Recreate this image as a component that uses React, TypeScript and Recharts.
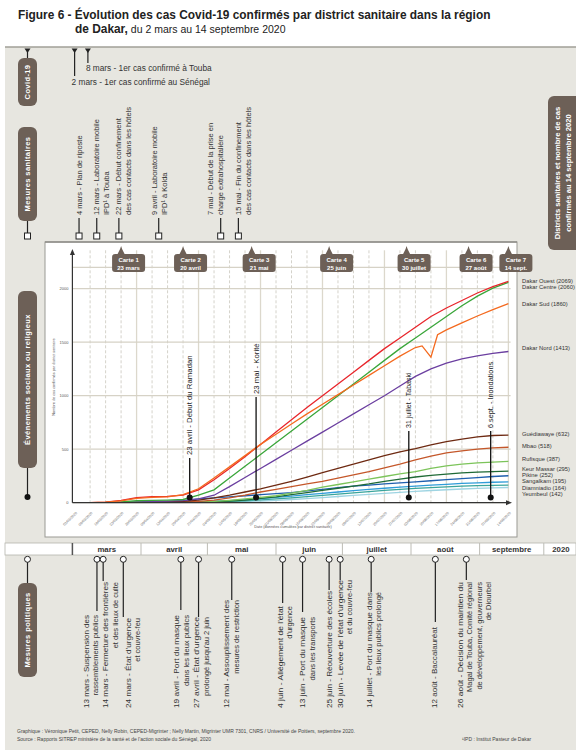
import React from 'react';
import { LineChart, Line, XAxis, YAxis, CartesianGrid } from 'recharts';

// ---------------- data ----------------
const weekDays = [0, 7, 14, 21, 28, 35, 42, 49, 56, 63, 70, 77, 84, 91, 98, 105, 112, 119, 126, 133, 140, 147, 154, 161, 168, 175, 182, 189, 196];
const weekLabels = ['02/03/2020', '09/03/2020', '16/03/2020', '23/03/2020', '30/03/2020', '06/04/2020', '13/04/2020', '20/04/2020', '27/04/2020', '04/05/2020', '11/05/2020', '18/05/2020', '25/05/2020', '01/06/2020', '08/06/2020', '15/06/2020', '22/06/2020', '29/06/2020', '06/07/2020', '13/07/2020', '20/07/2020', '27/07/2020', '03/08/2020', '10/08/2020', '17/08/2020', '24/08/2020', '31/08/2020', '07/09/2020', '14/09/2020'];

const dakarOuest = [0, 1, 6, 22, 48, 56, 60, 70, 120, 215, 320, 430, 545, 660, 775, 890, 1000, 1110, 1220, 1330, 1440, 1540, 1640, 1740, 1820, 1890, 1960, 2020, 2069];
const dakarCentre = [0, 0, 2, 8, 18, 22, 25, 30, 70, 120, 230, 340, 450, 560, 670, 780, 890, 1000, 1110, 1220, 1330, 1440, 1540, 1640, 1740, 1840, 1930, 2005, 2060];
const dakarNord = [0, 0, 1, 3, 8, 12, 15, 20, 35, 70, 150, 235, 320, 405, 490, 575, 660, 745, 830, 915, 1000, 1090, 1180, 1250, 1305, 1345, 1372, 1395, 1413];
const guediawaye = [0, 0, 0, 1, 3, 5, 8, 12, 25, 45, 70, 100, 130, 165, 200, 240, 280, 320, 360, 400, 440, 475, 505, 540, 570, 595, 615, 628, 632];
const mbao = [0, 0, 0, 0, 1, 2, 3, 5, 12, 25, 45, 70, 100, 125, 150, 175, 200, 230, 260, 290, 325, 360, 400, 435, 465, 485, 500, 512, 518];
const rufisque = [0, 0, 0, 0, 0, 1, 2, 3, 6, 12, 22, 35, 50, 65, 90, 115, 145, 170, 195, 220, 245, 270, 290, 320, 345, 360, 372, 380, 387];
const keurMassar = [0, 0, 0, 0, 0, 0, 1, 2, 4, 8, 15, 25, 40, 55, 75, 95, 115, 135, 155, 175, 200, 220, 240, 255, 268, 278, 286, 291, 295];
const pikine = [0, 0, 0, 1, 3, 6, 10, 20, 35, 45, 55, 65, 75, 85, 95, 110, 125, 140, 155, 165, 175, 185, 195, 205, 215, 225, 235, 245, 252];
const sangalkam = [0, 0, 0, 0, 0, 1, 2, 4, 8, 14, 20, 28, 38, 50, 62, 75, 88, 100, 112, 124, 135, 145, 155, 165, 172, 180, 186, 191, 195];
const diamniadio = [0, 0, 0, 0, 0, 0, 1, 2, 4, 8, 12, 18, 26, 35, 45, 56, 68, 80, 92, 104, 115, 125, 133, 141, 148, 154, 159, 162, 164];
const yeumbeul = [0, 0, 0, 0, 0, 0, 0, 1, 2, 4, 7, 11, 16, 22, 30, 38, 48, 58, 68, 78, 88, 97, 106, 114, 121, 128, 134, 139, 142];

const sudDays = [0, 7, 14, 21, 28, 35, 42, 49, 56, 63, 70, 77, 84, 91, 98, 105, 112, 119, 126, 133, 140, 147, 154, 157, 161, 164, 168, 175, 182, 189, 196];
const dakarSud = [0, 1, 5, 18, 40, 50, 55, 75, 130, 230, 335, 440, 545, 640, 735, 830, 920, 1010, 1100, 1190, 1280, 1370, 1450, 1465, 1360, 1570, 1615, 1680, 1745, 1805, 1860];

const yTicks = [0, 500, 1000, 1500, 2000];

const series = [
  { key: 'ouest', name: 'Dakar Ouest', total: 2069, color: '#e8262c', values: dakarOuest, labelY: 281 },
  { key: 'centre', name: 'Dakar Centre', total: 2060, color: '#3aa63a', values: dakarCentre, labelY: 287 },
  { key: 'nord', name: 'Dakar Nord', total: 1413, color: '#6b3fa0', values: dakarNord, labelY: 348 },
  { key: 'guediawaye', name: 'Guédiawaye', total: 632, color: '#6e2a12', values: guediawaye, labelY: 434 },
  { key: 'mbao', name: 'Mbao', total: 518, color: '#c4572a', values: mbao, labelY: 446 },
  { key: 'rufisque', name: 'Rufisque', total: 387, color: '#7cc45a', values: rufisque, labelY: 459 },
  { key: 'keurMassar', name: 'Keur Massar', total: 295, color: '#1f6a36', values: keurMassar, labelY: 469 },
  { key: 'pikine', name: 'Pikine', total: 252, color: '#1f5fae', values: pikine, labelY: 475 },
  { key: 'sangalkam', name: 'Sangalkam', total: 195, color: '#2f9cd8', values: sangalkam, labelY: 481 },
  { key: 'diamniadio', name: 'Diamniadio', total: 164, color: '#3aa59c', values: diamniadio, labelY: 488 },
  { key: 'yeumbeul', name: 'Yeumbeul', total: 142, color: '#9ed4e2', values: yeumbeul, labelY: 494 },
];
const sud = { name: 'Dakar Sud', total: 1860, color: '#f46a1f', labelY: 304 };

const rows = weekDays.map((d, i) => {
  const r: any = { day: d };
  series.forEach((s) => { r[s.key] = s.values[i]; });
  return r;
});
const sudRows = sudDays.map((d, i) => ({ day: d, sud: dakarSud[i] }));

// annotations
const covidEvents = [
  { day: 0, lineEnd: 76, textY: 85, dx: -3, text: '2 mars - 1er cas confirmé au Sénégal' },
  { day: 6, lineEnd: 63, textY: 71, dx: -2, text: '8 mars - 1er cas confirmé à Touba' },
];
const sanitaires = [
  { day: 2, dx: 0, lines: ['4 mars - Plan de riposte'] },
  { day: 10, dx: 0, lines: ['12 mars - Laboratoire mobile', 'IPD¹ à Touba'] },
  { day: 20, dx: 0, lines: ['22 mars - Début confinement', 'des cas contacts dans les hôtels'] },
  { day: 38, dx: -4, lines: ['9 avril - Laboratoire mobile', 'IPD¹ à Kolda'] },
  { day: 66, dx: -10, lines: ['7 mai - Début de la prise en', 'charge extrahospitalière'] },
  { day: 74, dx: 0, lines: ['15 mai - Fin du confinement', 'des cas contacts dans les hôtels'] },
];
const politiques = [
  { day: 11, shift: -2, end: 611, top: 615, dx: -10.7, lines: ['13 mars - Suspension des', 'rassemblements publics'] },
  { day: 12, shift: 2, end: 581, top: 582, dx: 2.7, lines: ['14 mars - Fermeture des frontières', 'et des lieux de culte'] },
  { day: 22, shift: 0, end: 617, top: 618, dx: 5, lines: ["24 mars - État d'urgence", 'et couvre-feu'] },
  { day: 48, shift: 0, end: 610, top: 615, dx: -4, lines: ['19 avril - Port du masque', 'dans les lieux publics'] },
  { day: 56, shift: 0, end: 617, top: 617, dx: -2, lines: ["27 avril - État d'urgence", "prolongé jusqu'au 2 juin"] },
  { day: 71, shift: 0, end: 600, top: 600, dx: -5, lines: ['12 mai - Assouplissement des', 'mesures de restriction'] },
  { day: 94, shift: 0, end: 603, top: 606, dx: -2.6, lines: ["4 juin - Allégement de l'état", "d'urgence"] },
  { day: 103, shift: 0, end: 612, top: 617, dx: 0, lines: ['13 juin - Port du masque', 'dans les transports'] },
  { day: 115, shift: 0, end: 590, top: 591, dx: 0, lines: ['25 juin - Réouverture des écoles'] },
  { day: 120, shift: 0, end: 580, top: 580, dx: 0, lines: ["30 juin - Levée de l'état d'urgence", 'et du couvre-feu'] },
  { day: 134, shift: 0, end: 592, top: 592, dx: -2, lines: ['14 juillet - Port du masque dans', 'les lieux publics prolongé'] },
  { day: 163, shift: 0, end: 622, top: 627, dx: -1, lines: ['12 août - Baccalauréat'] },
  { day: 177, shift: 0, end: 580, top: 582, dx: -6, lines: ['26 août - Décision du maintien du', 'Magal de Touba, Comité régional', 'de développement, gouverneurs', 'de Diourbel'] },
];
const evenements = [
  { day: 52, text: '23 avril - Début du Ramadan', bottom: 455, size: 7.8 },
  { day: 82, text: '23 mai - Korité', bottom: 394, size: 7.8 },
  { day: 151, text: '31 juillet - Tabaski', bottom: 428, size: 7 },
  { day: 188, text: '6 sept. - Inondations', bottom: 428, size: 7.3 },
];
const cartes = [
  { day: 21, n: 1, date: '23 mars' },
  { day: 49, n: 2, date: '20 avril' },
  { day: 80, n: 3, date: '21 mai' },
  { day: 115, n: 4, date: '25 juin' },
  { day: 150, n: 5, date: '30 juillet' },
  { day: 178, n: 6, date: '27 août' },
  { day: 196, n: 7, date: '14 sept.' },
];
const months = [
  { name: 'mars', start: -1, end: 30 },
  { name: 'avril', start: 30, end: 60 },
  { name: 'mai', start: 60, end: 91 },
  { name: 'juin', start: 91, end: 121 },
  { name: 'juillet', start: 121, end: 152 },
  { name: 'août', start: 152, end: 183 },
  { name: 'septembre', start: 183, end: 212 },
];
const solidGridDays = [0, 28, 56, 84, 112, 140, 168, 196];

// ---------------- layout ----------------
const FONT = "'Liberation Sans', Arial, Helvetica, sans-serif";
const BROWN = '#6d6057';
const PANEL = '#e7e6e0';
const CH = { left: 45, top: 242, width: 472, height: 295 };
const M = { top: 25.3, right: 6.4, bottom: 4.3, left: 0 };
const Y_AXIS_W = 27.4;
const X_AXIS_H = 30;
const X_DOMAIN: [number, number] = [-1, 197];
const Y_DOMAIN: [number, number] = [0, 2200];
const plotLeft = CH.left + M.left + Y_AXIS_W;
const plotRight = CH.left + CH.width - M.right;
const plotTop = CH.top + M.top;
const plotBottom = CH.top + CH.height - M.bottom - X_AXIS_H;
const xOf = (d: number) => plotLeft + ((d - X_DOMAIN[0]) / (X_DOMAIN[1] - X_DOMAIN[0])) * (plotRight - plotLeft);

function VLines(props: any) {
  const { x, y, lines, size = 7.5, gap = 10, anchor = 'start', fill = '#333', weight = 400, firstLen, ls = 0 } = props;
  return (
    <g>
      {lines.map((t: string, i: number) => {
        const cx = x + i * gap;
        const extra: any = i === 0 && firstLen ? { textLength: firstLen, lengthAdjust: 'spacingAndGlyphs' } : {};
        return (
          <text key={i} x={cx} y={y} transform={`rotate(-90 ${cx} ${y})`} textAnchor={anchor} dominantBaseline="central"
            fontSize={size} fill={fill} fontWeight={weight} fontFamily={FONT} letterSpacing={ls} {...extra}>{t}</text>
        );
      })}
    </g>
  );
}

function Pill(props: any) {
  const { x, y, w, h, lines, size = 7.5 } = props;
  const cy = y + h / 2;
  const n = lines.length;
  return (
    <g>
      <rect x={x} y={y} width={w} height={h} rx={6} fill={BROWN} />
      <VLines x={x + w / 2 - ((n - 1) * 10.5) / 2} y={cy} lines={lines} anchor="middle" size={size} gap={10.5} fill="#fff" weight={700} ls={0.4} />
    </g>
  );
}

const DateTick = (props: any) => {
  const { x, y, payload } = props;
  const i = weekDays.indexOf(payload.value);
  const ty = y + 1;
  return (
    <text x={x + 1} y={ty} transform={`rotate(-45 ${x + 1} ${ty})`} textAnchor="end" dominantBaseline="hanging" fontSize={3.6} fill="#666" fontFamily={FONT}>
      {weekLabels[i]}
    </text>
  );
};

export default function App() {
  return (
    <div style={{ position: 'absolute', left: 0, top: 0, width: 576, height: 750, background: '#fff', overflow: 'hidden', fontFamily: FONT }}>
      {/* background layer */}
      <svg width={576} height={750} style={{ position: 'absolute', left: 0, top: 0 }}>
        <rect x={5} y={47} width={571} height={703} fill={PANEL} />
        <line x1={5} x2={576} y1={47} y2={47} stroke="#a09f97" strokeWidth={1.5} />
        <rect x={CH.left} y={CH.top} width={CH.width} height={CH.height} fill="#fff" stroke="#9a9993" strokeWidth={1} />
        <line x1={CH.left} x2={CH.left + CH.width} y1={CH.top} y2={CH.top} stroke="#8f8e88" strokeWidth={1.5} />
        {weekDays.filter((d) => d > 0 && solidGridDays.indexOf(d) < 0).map((d) => (
          <line key={'d' + d} x1={xOf(d)} x2={xOf(d)} y1={plotTop - 17} y2={plotBottom} stroke="#c9c6bc" strokeWidth={0.8} strokeDasharray="3 2" />
        ))}
        {solidGridDays.filter((d) => d > 0).map((d) => (
          <line key={'s' + d} x1={xOf(d)} x2={xOf(d)} y1={plotTop - 17} y2={plotBottom} stroke="#dcd8cc" strokeWidth={1.3} />
        ))}
      </svg>

      {/* chart */}
      <div style={{ position: 'absolute', left: CH.left, top: CH.top, width: CH.width, height: CH.height }}>
        <LineChart width={CH.width} height={CH.height} data={rows} margin={M}>
          <CartesianGrid vertical={false} stroke="#d6d2c6" strokeWidth={1.3} />
          <XAxis dataKey="day" type="number" domain={X_DOMAIN} ticks={weekDays} interval={0} tick={<DateTick />} axisLine={false} tickLine={false} height={X_AXIS_H} allowDataOverflow />
          <YAxis type="number" domain={Y_DOMAIN} ticks={yTicks} width={Y_AXIS_W} axisLine={false} tickLine={false} tickSize={2} tickMargin={2} tick={{ fontSize: 4, fill: '#555', fontFamily: FONT }} allowDataOverflow />
          {series.slice().reverse().map((s) => (
            <Line key={s.key} dataKey={s.key} stroke={s.color} strokeWidth={1.3} dot={false} isAnimationActive={false} type="linear" />
          ))}
          <Line data={sudRows} dataKey="sud" stroke={sud.color} strokeWidth={1.3} dot={false} isAnimationActive={false} type="linear" />
        </LineChart>
      </div>

      {/* foreground layer */}
      <svg width={576} height={750} style={{ position: 'absolute', left: 0, top: 0 }}>
        {/* title */}
        <text x={18} y={19} fontSize={11.9} fontWeight={700} fill="#222" fontFamily={FONT}>Figure 6 - Évolution des cas Covid-19 confirmés par district sanitaire dans la région</text>
        <text x={75} y={33} fontSize={10.5} fill="#222" fontFamily={FONT}>
          <tspan fontWeight={700} fontSize={11.9}>de Dakar,</tspan> du 2 mars au 14 septembre 2020
        </text>

        {/* left pills */}
        <line x1={27.5} x2={27.5} y1={49} y2={58} stroke="#222" strokeWidth={1.2} />
        <path d="M24.5,48.5 L30.5,48.5 L27.5,53 Z" fill="#222" />
        <Pill x={18} y={58} w={19} h={48} lines={['Covid-19']} />
        <Pill x={18} y={127} w={19} h={94} lines={['Mesures sanitaires']} />
        <line x1={27.5} x2={27.5} y1={221} y2={233} stroke="#222" strokeWidth={1.2} />
        <rect x={24.5} y={233} width={6} height={6} fill="#fff" stroke="#222" strokeWidth={1} />
        <Pill x={18} y={291} w={19} h={177} lines={['Événements sociaux ou religieux']} />
        <line x1={27.5} x2={27.5} y1={468} y2={497} stroke="#222" strokeWidth={1.2} />
        <circle cx={27.5} cy={497} r={3} fill="#111" />
        <Pill x={18} y={583} w={19} h={94} lines={['Mesures politiques']} />
        <line x1={27.5} x2={27.5} y1={562} y2={583} stroke="#222" strokeWidth={1.2} />
        <circle cx={27.5} cy={559.3} r={3} fill="#fff" stroke="#222" strokeWidth={1} />

        {/* right pill */}
        <rect x={548} y={96} width={40} height={154} rx={6} fill={BROWN} />
        <VLines x={557.5} y={173} lines={['Districts sanitaires et nombre de cas', 'confirmés au 14 septembre 2020']} anchor="middle" size={7.6} gap={11} fill="#fff" weight={700} />

        {/* covid events */}
        {covidEvents.map((e, i) => (
          <g key={'c' + i}>
            <line x1={xOf(e.day)} x2={xOf(e.day)} y1={49} y2={e.lineEnd} stroke="#222" strokeWidth={1.2} />
            <path d={`M${xOf(e.day) - 3},48.5 L${xOf(e.day) + 3},48.5 L${xOf(e.day)},53 Z`} fill="#222" />
            <text x={xOf(e.day) + e.dx} y={e.textY} fontSize={8.3} fill="#333" fontFamily={FONT}>{e.text}</text>
          </g>
        ))}

        {/* mesures sanitaires */}
        {sanitaires.map((s, i) => {
          const x = xOf(s.day);
          return (
            <g key={'s' + i}>
              <VLines x={x + s.dx} y={215} lines={s.lines} size={7.5} gap={10} />
              <line x1={x} x2={x} y1={218} y2={233} stroke="#222" strokeWidth={1.2} />
              <rect x={x - 3} y={233} width={6} height={6} fill="#fff" stroke="#222" strokeWidth={1} />
            </g>
          );
        })}

        {/* cartes */}
        {cartes.map((c) => {
          const x = xOf(c.day);
          return (
            <g key={'k' + c.n}>
              <path d={`M${x - 4},255 L${x - 1},249 L${x},246 L${x + 1},249 L${x + 4},255 Z`} fill={BROWN} />
              <rect x={x - 9} y={254} width={33} height={18} rx={3} fill={BROWN} />
              <text x={x + 7.5} y={261.5} textAnchor="middle" fontSize={6} fontWeight={700} fill="#fff" fontFamily={FONT}>{'Carte ' + c.n}</text>
              <text x={x + 7.5} y={269.5} textAnchor="middle" fontSize={6} fontWeight={700} fill="#fff" fontFamily={FONT}>{c.date}</text>
            </g>
          );
        })}

        {/* axes */}
        <line x1={plotLeft} x2={plotLeft} y1={plotBottom} y2={254} stroke="#333" strokeWidth={1.2} />
        <path d={`M${plotLeft - 2.5},255 L${plotLeft},249 L${plotLeft + 2.5},255 Z`} fill="#333" />
        <line x1={plotLeft} x2={507} y1={plotBottom} y2={plotBottom} stroke="#333" strokeWidth={1.2} />
        <path d={`M506,${plotBottom - 2.5} L512,${plotBottom} L506,${plotBottom + 2.5} Z`} fill="#333" />
        <text x={55} y={377} transform="rotate(-90 55 377)" textAnchor="middle" fontSize={3.8} fill="#555" fontFamily={FONT}>Nombre de cas confirmés par district sanitaire</text>
        <text x={293} y={528} textAnchor="middle" fontSize={3.8} fill="#555" fontFamily={FONT}>Date (données cumulées par district sanitaire)</text>

        {/* événements */}
        {evenements.map((e, i) => {
          const x = xOf(e.day);
          return (
            <g key={'e' + i}>
              <VLines x={x} y={e.bottom} lines={[e.text]} size={e.size} fill="#222" />
              <line x1={x} x2={x} y1={e.bottom + 3} y2={497} stroke="#111" strokeWidth={1.3} />
              <circle cx={x} cy={497.5} r={3} fill="#111" />
            </g>
          );
        })}

        {/* district labels */}
        {series.slice(0, 2).map((s) => (
          <text key={'l' + s.key} x={522} y={s.labelY} dominantBaseline="central" fontSize={5.8} fill="#333" fontFamily={FONT}>{`${s.name} (${s.total})`}</text>
        ))}
        <text x={522} y={sud.labelY} dominantBaseline="central" fontSize={5.8} fill="#333" fontFamily={FONT}>{`${sud.name} (${sud.total})`}</text>
        {series.slice(2).map((s) => (
          <text key={'l' + s.key} x={522} y={s.labelY} dominantBaseline="central" fontSize={5.8} fill="#333" fontFamily={FONT}>{`${s.name} (${s.total})`}</text>
        ))}

        {/* month band */}
        <rect x={5} y={543} width={571} height={12} fill="#fff" stroke="#b5b4ad" strokeWidth={0.8} />
        {months.map((m) => (
          <g key={m.name}>
            <line x1={xOf(m.start)} x2={xOf(m.start)} y1={543} y2={555} stroke={m.start < 0 ? '#555' : '#bdbcb5'} strokeWidth={m.start < 0 ? 1.5 : 1} />
            <text x={(xOf(m.start) + xOf(m.end)) / 2} y={551.8} textAnchor="middle" fontSize={7.8} fontWeight={700} fill="#333" fontFamily={FONT}>{m.name}</text>
          </g>
        ))}
        <line x1={xOf(212)} x2={xOf(212)} y1={543} y2={555} stroke="#bdbcb5" strokeWidth={1} />
        <text x={(xOf(212) + 576) / 2 + 1} y={551.8} textAnchor="middle" fontSize={7.8} fontWeight={700} fill="#333" fontFamily={FONT}>2020</text>

        {/* mesures politiques */}
        {politiques.map((p, i) => {
          const x = xOf(p.day) + p.shift;
          return (
            <g key={'p' + i}>
              <line x1={x} x2={x} y1={562} y2={p.end} stroke="#222" strokeWidth={1.2} />
              <circle cx={x} cy={559.3} r={3} fill="#fff" stroke="#222" strokeWidth={1} />
              <VLines x={x + p.dx} y={p.top} lines={p.lines} anchor="end" size={7.5} gap={9.5} firstLen={708 - p.top} />
            </g>
          );
        })}

        {/* footer */}
        <text x={17} y={733} fontSize={5} fill="#444" fontFamily={FONT}>Graphique : Véronique Petit, CEPED, Nelly Robin, CEPED-Migrinter ; Nelly Martin, Migrinter UMR 7301, CNRS / Université de Poitiers, septembre 2020.</text>
        <text x={17} y={741} fontSize={5} fill="#444" fontFamily={FONT}>Source : Rapports SITREP ministère de la santé et de l'action sociale du Sénégal, 2020</text>
        <text x={462} y={741} fontSize={5} fill="#444" fontFamily={FONT}>¹IPD : Institut Pasteur de Dakar</text>
      </svg>
    </div>
  );
}
